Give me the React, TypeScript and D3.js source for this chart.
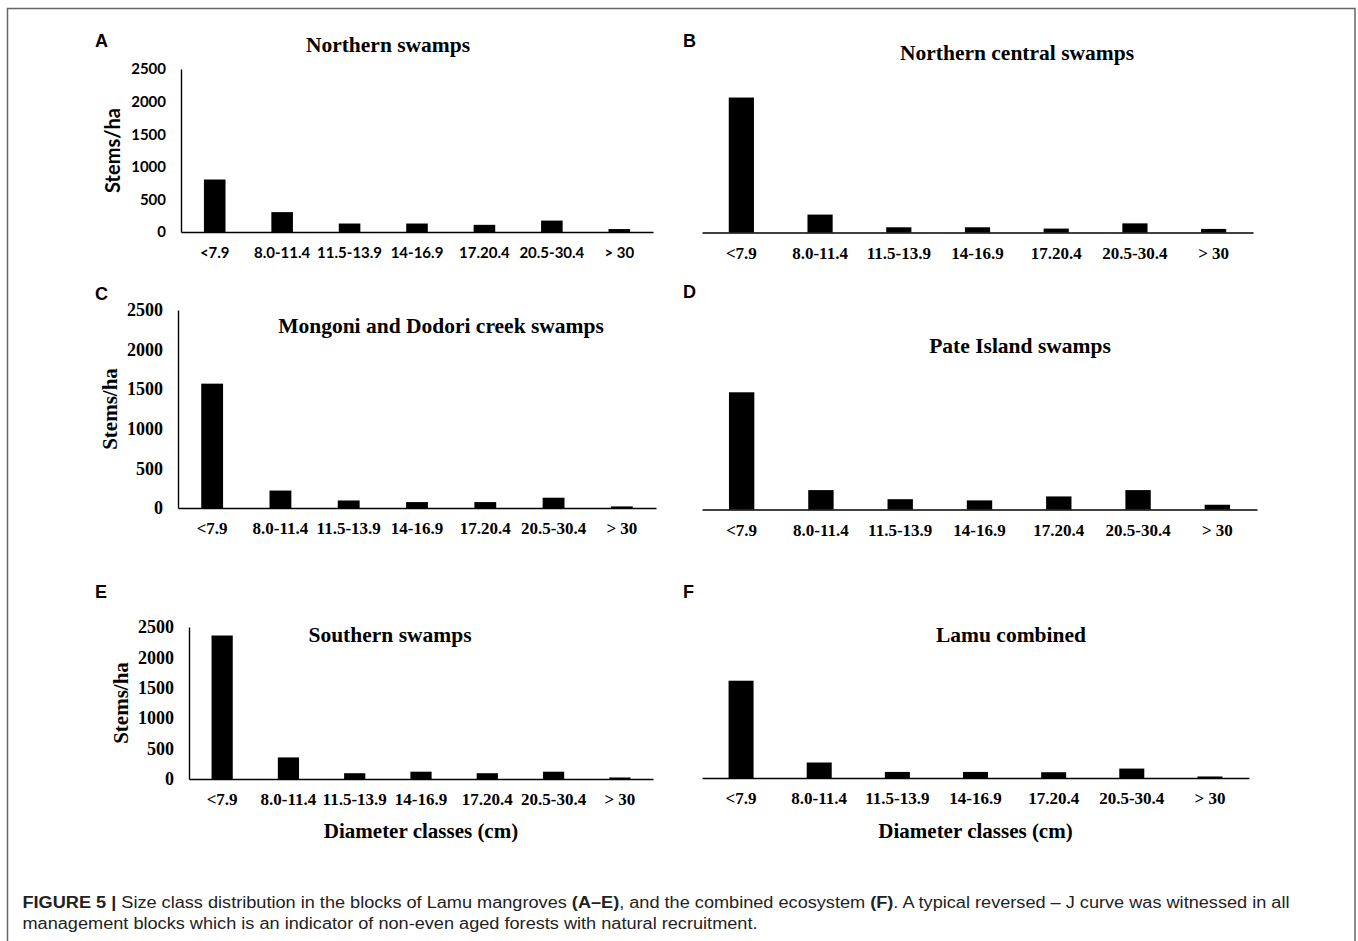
import { useEffect, useRef } from "react";
import * as d3 from "d3";

// diameter classes (x categories) and y ticks
const diameterClasses = ["<7.9", "8.0-11.4", "11.5-13.9", "14-16.9", "17.20.4", "20.5-30.4", "> 30"];
const stemTicks = [0, 500, 1000, 1500, 2000, 2500];

// stems/ha per diameter class
const northernSwamps = [805, 305, 130, 130, 110, 175, 45];
const northernCentralSwamps = [2070, 275, 80, 80, 60, 140, 55];
const mongoniDodoriSwamps = [1570, 220, 95, 75, 75, 130, 20];
const pateIslandSwamps = [1480, 245, 130, 115, 165, 245, 60];
const southernSwamps = [2360, 355, 95, 120, 95, 120, 25];
const lamuCombined = [1600, 255, 100, 100, 95, 155, 25];

const W = 1358;
const H = 941;
const SERIF = '"Liberation Serif", "Times New Roman", serif';
const SANS = 'Lato, "Liberation Sans", sans-serif';
const CAPTION_FONT = '"Liberation Sans", Arial, sans-serif';

type Panel = {
  letter: string;
  title: string;
  values: number[];
  x0: number;
  x1: number;
  top: number;
  base: number;
  yAxis: boolean;
  sans: boolean;
  xTitle: boolean;
  titleX: number;
  titleY: number;
  letterX: number;
  letterY: number;
};

const panels: Panel[] = [
  { letter: "A", title: "Northern swamps", values: northernSwamps, x0: 181, x1: 653, top: 69, base: 232, yAxis: true, sans: true, xTitle: false, titleX: 388, titleY: 52, letterX: 95, letterY: 47 },
  { letter: "B", title: "Northern central swamps", values: northernCentralSwamps, x0: 702, x1: 1253, top: 69.5, base: 232.5, yAxis: false, sans: false, xTitle: false, titleX: 1017, titleY: 60, letterX: 683, letterY: 47 },
  { letter: "C", title: "Mongoni and Dodori creek swamps", values: mongoniDodoriSwamps, x0: 178, x1: 656, top: 310, base: 508, yAxis: true, sans: false, xTitle: false, titleX: 441, titleY: 333, letterX: 95, letterY: 300 },
  { letter: "D", title: "Pate Island swamps", values: pateIslandSwamps, x0: 702, x1: 1257, top: 311.5, base: 509.5, yAxis: false, sans: false, xTitle: false, titleX: 1020, titleY: 353, letterX: 683, letterY: 298 },
  { letter: "E", title: "Southern swamps", values: southernSwamps, x0: 189, x1: 653, top: 627, base: 779, yAxis: true, sans: false, xTitle: true, titleX: 390, titleY: 642, letterX: 95, letterY: 598 },
  { letter: "F", title: "Lamu combined", values: lamuCombined, x0: 702, x1: 1249, top: 626, base: 778, yAxis: false, sans: false, xTitle: true, titleX: 1011, titleY: 642, letterX: 683, letterY: 598 },
];

export default function App() {
  const svgRef = useRef<SVGSVGElement>(null);

  useEffect(() => {
    if (!svgRef.current) return;
    const svg = d3.select(svgRef.current);
    svg.selectAll("*").remove();

    // outer frame
    svg
      .append("rect")
      .attr("x", 7.5)
      .attr("y", 8.5)
      .attr("width", 1355 - 7.5)
      .attr("height", H)
      .attr("fill", "none")
      .attr("stroke", "#666")
      .attr("stroke-width", 1.5);

    for (const p of panels) {
      const g = svg.append("g");
      const font = p.sans ? SANS : SERIF;

      const x = d3
        .scaleBand<string>()
        .domain(diameterClasses)
        .range([p.x0, p.x1])
        .paddingInner(0.68)
        .paddingOuter(0.34);

      const y = d3.scaleLinear().domain([0, 2500]).range([p.base, p.top]);

      // bars
      g.selectAll(".bar")
        .data(p.values)
        .join("rect")
        .attr("x", (_, i) => x(diameterClasses[i]) || 0)
        .attr("y", (d) => y(d))
        .attr("width", x.bandwidth())
        .attr("height", (d) => y(0) - y(d))
        .attr("fill", "#000");

      // x axis
      const xAxis = g
        .append("g")
        .attr("transform", `translate(0,${p.base})`)
        .call(d3.axisBottom(x).tickSize(0).tickSizeOuter(0));
      xAxis.select(".domain").attr("stroke", "#000").attr("stroke-width", 1.6);
      xAxis
        .selectAll("text")
        .attr("y", 26)
        .attr("dy", 0)
        .attr("fill", "#000")
        .style("font-family", font)
        .style("font-weight", "bold")
        .style("font-size", p.sans ? "15px" : "17px");

      // y axis
      if (p.yAxis) {
        const yAxis = g
          .append("g")
          .attr("transform", `translate(${p.x0},0)`)
          .call(
            d3
              .axisLeft(y)
              .tickValues(stemTicks)
              .tickFormat(d3.format("d"))
              .tickSize(0)
              .tickSizeOuter(0)
              .tickPadding(15)
          );
        yAxis.select(".domain").attr("stroke", "#000").attr("stroke-width", 1.4);
        yAxis
          .selectAll("text")
          .attr("fill", "#000")
          .style("font-family", font)
          .style("font-weight", "bold")
          .style("font-size", p.sans ? "15px" : "18px");

        g.append("text")
          .attr("transform", `translate(${p.x0 - 68},${(p.base + p.top) / 2}) rotate(-90)`)
          .attr("text-anchor", "middle")
          .attr("dy", "0.35em")
          .style("font-family", font)
          .style("font-weight", "bold")
          .style("font-size", p.sans ? "20px" : "21px")
          .text("Stems/ha");
      }

      if (p.xTitle) {
        g.append("text")
          .attr("x", (p.x0 + p.x1) / 2)
          .attr("y", 838)
          .attr("text-anchor", "middle")
          .style("font-family", SERIF)
          .style("font-weight", "bold")
          .style("font-size", "21px")
          .text("Diameter classes (cm)");
      }

      // panel title
      g.append("text")
        .attr("x", p.titleX)
        .attr("y", p.titleY)
        .attr("text-anchor", "middle")
        .style("font-family", SERIF)
        .style("font-weight", "bold")
        .style("font-size", "21.5px")
        .text(p.title);

      // panel letter
      g.append("text")
        .attr("x", p.letterX)
        .attr("y", p.letterY)
        .style("font-family", '"Liberation Sans", Arial, sans-serif')
        .style("font-weight", "bold")
        .style("font-size", "18px")
        .text(p.letter);
    }

    // caption
    const cap1 = svg
      .append("text")
      .attr("x", 22.5)
      .attr("y", 908)
      .attr("textLength", 1267)
      .attr("lengthAdjust", "spacingAndGlyphs")
      .attr("fill", "#222")
      .style("font-family", CAPTION_FONT)
      .style("font-size", "16px");
    cap1.append("tspan").style("font-weight", "bold").text("FIGURE 5 | ");
    cap1.append("tspan").text("Size class distribution in the blocks of Lamu mangroves ");
    cap1.append("tspan").style("font-weight", "bold").text("(A–E)");
    cap1.append("tspan").text(", and the combined ecosystem ");
    cap1.append("tspan").style("font-weight", "bold").text("(F)");
    cap1.append("tspan").text(". A typical reversed – J curve was witnessed in all");

    svg
      .append("text")
      .attr("x", 22.5)
      .attr("y", 929)
      .attr("textLength", 735)
      .attr("lengthAdjust", "spacingAndGlyphs")
      .attr("fill", "#222")
      .style("font-family", CAPTION_FONT)
      .style("font-size", "16px")
      .text("management blocks which is an indicator of non-even aged forests with natural recruitment.");
  }, []);

  return (
    <svg
      ref={svgRef}
      width={W}
      height={H}
      style={{ position: "absolute", left: 0, top: 0, background: "#fff" }}
    />
  );
}
